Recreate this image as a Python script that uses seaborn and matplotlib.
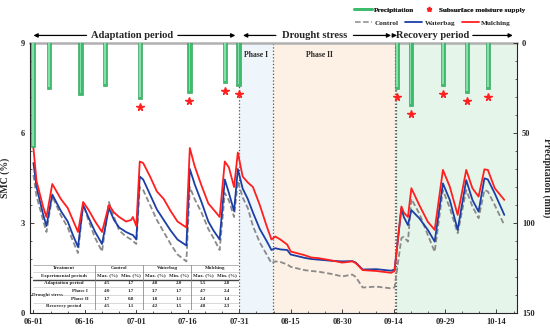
import numpy as np
import pandas as pd
import matplotlib
matplotlib.use('Agg')
import matplotlib.pyplot as plt
import seaborn as sns
from matplotlib.lines import Line2D
from matplotlib.patches import Rectangle
from matplotlib.ticker import MultipleLocator, FixedLocator

# dias contados a partir de 06-01
dias = [0, 0.9, 2.8, 3.8, 5.5, 8, 10, 11.5, 13, 14.5, 16, 18, 20, 22, 23.5, 25, 27, 28.5, 29, 30,
        31, 32, 34, 36, 38, 40, 42, 44.6, 45.6, 47, 49, 51, 52.5, 54.3, 55.8, 57, 58.5, 59.6,
        61, 62.5, 64, 66, 68, 69.4, 70.5, 72, 74, 75, 79, 81, 83, 87, 90, 93, 94, 96, 100, 104.3, 105.3,
        107.3, 108, 109.2, 110.2, 112.5, 115, 117, 119.4, 121.4, 123.7, 126.2, 128, 129.8, 131.5,
        132.5, 134.5, 137.3]
controle = [4.6, 3.9, 3.1, 2.7, 3.9, 3.25, 2.85, 2.4, 2.0, 3.65, 3.1, 2.5, 2.05, 3.7, 3.2, 2.75, 2.55, 2.45, 2.4, 2.3,
            4.2, 4.1, 3.6, 3.1, 2.7, 2.3, 1.95, 1.72, 4.2, 3.8, 3.35, 2.8, 2.5, 2.1, 4.0, 3.75, 3.2, 4.4,
            3.85, 3.5, 2.9, 2.35, 1.95, 1.66, 1.72, 1.7, 1.62, 1.54, 1.43, 1.4, 1.38, 1.3, 1.22, 1.28, 1.2, 0.85, 0.88, 0.82, 0.85,
            2.5, 2.54, 2.38, 3.8, 3.32, 2.6, 2.04, 4.1, 3.5, 2.66, 4.1, 3.55, 3.16, 4.1,
            4.05, 3.6, 2.93]
waterbag = [5.0, 4.2, 3.3, 2.9, 3.95, 3.4, 3.05, 2.6, 2.2, 3.6, 3.2, 2.7, 2.3, 3.5, 3.1, 2.85, 2.7, 2.62, 2.6, 2.45,
            4.55, 4.45, 3.95, 3.45, 3.1, 2.75, 2.45, 2.25, 4.8, 4.3, 3.7, 3.05, 2.75, 2.45, 4.45, 4.0, 3.4, 4.8,
            4.15, 3.8, 3.35, 2.8, 2.4, 2.1, 2.16, 2.12, 2.1, 1.95, 1.84, 1.8, 1.78, 1.74, 1.72, 1.73, 1.68, 1.45, 1.46, 1.41, 1.45,
            3.5, 3.2, 2.93, 3.43, 3.16, 2.77, 2.38, 4.32, 3.77, 2.77, 4.43, 3.77, 3.38, 4.49,
            4.45, 3.99, 3.27]
mulching = [5.5, 4.4, 3.55, 3.2, 4.3, 3.8, 3.5, 3.1, 2.7, 3.7, 3.45, 3.05, 2.7, 3.6, 3.35, 3.2, 3.05, 3.1, 3.2, 2.9,
            5.05, 5.0, 4.55, 4.05, 3.8, 3.4, 3.05, 2.85, 5.5, 4.9, 4.25, 3.65, 3.45, 3.2, 5.05, 4.85, 4.2, 5.35,
            4.55, 4.35, 4.2, 3.6, 2.9, 2.45, 2.55, 2.45, 2.28, 2.05, 1.93, 1.85, 1.83, 1.75, 1.68, 1.72, 1.66, 1.43, 1.4, 1.34, 1.4,
            3.55, 3.35, 3.2, 4.16, 3.6, 3.04, 2.77, 4.77, 4.21, 3.27, 4.77, 4.16, 3.88, 4.79,
            4.77, 4.16, 3.77]

precip_dias = [-0.1, 4.5, 13.7, 20.9, 31, 45.5, 55.8, 59.8, 106, 110, 119.4, 126.5, 132.6]
precip_mm = [58, 25.6, 29, 24, 31, 27.6, 22, 24, 25.7, 35, 24, 27.6, 25.7]
supply_dias = precip_dias[4:]
supply_mm = precip_mm[4:]

datas_ticks = ['06-01', '06-16', '07-01', '07-16', '07-31', '08-15', '08-30', '09-14', '09-29', '10-14']

tabela_linhas = ['Adaptation period', 'Phase I', 'Phase II', 'Recovery period']
tab_control = [(4.5, 1.7), (4.0, 1.7), (1.7, 0.8), (4.5, 1.1)]
tab_waterbag = [(4.8, 2.0), (3.7, 1.7), (1.8, 1.1), (4.2, 1.5)]
tab_mulching = [(5.5, 2.8), (4.7, 2.4), (2.4, 1.4), (4.8, 2.3)]

sns.set_style('ticks')
plt.rcParams['font.family'] = ['Liberation Serif', 'DejaVu Serif']
plt.rcParams['font.weight'] = 'bold'

cores = {'Control': '#8a8a8a', 'Waterbag': '#1c3fa6', 'Mulching': '#ff1f1f'}
verde = '#3dbd6c'

fig = plt.figure(figsize=(5.5, 3.3), dpi=100)
ax = fig.add_axes([30/550, 1-313/330, 487/550, 270/330])

# fundos dos periodos
ax.axvspan(60, 69.8, color='#eef5fb', zorder=0, lw=0)
ax.axvspan(69.8, 105.3, color='#fdf0e5', zorder=0, lw=0)
ax.axvspan(105.8, 141, color='#e5f5ea', zorder=0, lw=0)
for xv in [60, 69.8, 105.3, 105.8]:
    ax.axvline(xv, color='#555555', ls=':', lw=0.9, zorder=1)

df = pd.DataFrame({'dia': dias, 'Control': controle, 'Waterbag': waterbag, 'Mulching': mulching})
longo = df.melt(id_vars='dia', var_name='trat', value_name='smc')
sns.lineplot(data=longo, x='dia', y='smc', hue='trat', style='trat',
             hue_order=['Control', 'Waterbag', 'Mulching'], palette=cores,
             dashes={'Control': (3, 1.5), 'Waterbag': '', 'Mulching': ''},
             linewidth=1.3, legend=False, ax=ax, zorder=3)

ax.set_xlim(-1, 141)
ax.set_ylim(0, 9)
ax.xaxis.set_major_locator(FixedLocator([15*i for i in range(10)]))
ax.set_xticklabels(datas_ticks, fontsize=6.5, fontweight='bold')
ax.xaxis.set_minor_locator(MultipleLocator(5))
ax.yaxis.set_major_locator(MultipleLocator(3))
ax.yaxis.set_minor_locator(MultipleLocator(0.6))
ax.tick_params(axis='both', which='both', direction='in', labelsize=6)
ax.tick_params(which='major', length=3, width=0.6)
ax.tick_params(which='minor', length=1.5, width=0.5)
ax.set_xlabel('')
ax.set_ylabel('SMC (%)', fontsize=7, fontweight='bold', labelpad=8)
for s in ['left', 'bottom', 'right']:
    ax.spines[s].set_linewidth(0.7)
ax.spines['top'].set_color('#b0b0b0')
ax.spines['top'].set_linewidth(1.8)

# precipitacao (eixo invertido)
ax2 = ax.twinx()
ax2.bar(precip_dias, precip_mm, width=1.25, bottom=0, color=verde, edgecolor='#2a9a55', lw=0.4, zorder=4)
ax2.bar(precip_dias, [m - 1 for m in precip_mm], width=0.45, bottom=0, color='#86deaa', lw=0, zorder=5)
ax2.plot(supply_dias, [m + 4.5 for m in supply_mm], ls='none', marker='*', color='#ff2020', ms=5.5, zorder=6)
ax2.set_ylim(150, 0)
ax2.yaxis.set_major_locator(MultipleLocator(50))
ax2.yaxis.set_minor_locator(MultipleLocator(10))
ax2.tick_params(axis='y', which='both', direction='in', labelsize=6)
ax2.tick_params(which='major', length=3, width=0.6)
ax2.tick_params(which='minor', length=1.5, width=0.5)
ax2.set_ylabel('Precipitation (mm)', fontsize=7, fontweight='bold', rotation=270, labelpad=12)
ax2.spines['top'].set_visible(False)

# cabecalho dos periodos
def periodo(x0, x1, texto, xc, meia):
    ax.text(xc, 1.028, texto, transform=ax.get_xaxis_transform(), ha='center', va='center',
            fontsize=7.6, fontweight='bold')
    kw = dict(xycoords=ax.get_xaxis_transform(), textcoords=ax.get_xaxis_transform(),
              arrowprops=dict(arrowstyle='-|>', color='black', lw=0.9, mutation_scale=6))
    ax.annotate('', xy=(x0, 1.028), xytext=(xc - meia, 1.028), **kw)
    ax.annotate('', xy=(x1, 1.028), xytext=(xc + meia, 1.028), **kw)

periodo(-0.8, 59.7, 'Adaptation period', 28.8, 12.5)
periodo(60.3, 105.1, 'Drought stress', 82, 10.5)
periodo(106, 140.6, 'Recovery period', 116.3, 11)

ax.text(64.8, 8.6, 'Phase I', ha='center', va='center', fontsize=5.5, fontweight='bold')
ax.text(83.3, 8.6, 'Phase II', ha='center', va='center', fontsize=5.5, fontweight='bold')

# legendas
leg1 = fig.legend(handles=[Line2D([], [], color=verde, lw=2),
                           Line2D([], [], color='#ff2020', marker='*', ls='none', ms=3.5)],
                  labels=['Precipitation', 'Subsurface moisture supply'], ncol=2, loc='center',
                  bbox_to_anchor=(440/550, 1-10/330), frameon=False, fontsize=5.2,
                  handlelength=2.4, handletextpad=0.3, columnspacing=0.8)
leg2 = fig.legend(handles=[Line2D([], [], color=cores['Control'], lw=1.1, ls='--'),
                           Line2D([], [], color=cores['Waterbag'], lw=1.3),
                           Line2D([], [], color=cores['Mulching'], lw=1.3)],
                  labels=['Control', 'Waterbag', 'Mulching'], ncol=3, loc='center',
                  bbox_to_anchor=(433/550, 1-23/330), frameon=False, fontsize=5.2,
                  handlelength=2.4, handletextpad=0.3, columnspacing=0.9)
fig.add_artist(leg1)

# tabela
tab = fig.add_axes([33/550, 1-310/330, 206/550, 46/330])
tab.set_xlim(33, 239)
tab.set_ylim(310, 264)
tab.axis('off')
tab.add_patch(Rectangle((33, 264), 206, 46, fc='white', ec='none'))
fs = 3.6
for yl, cor, lw in [(264.5, '#999999', 0.5), (271.5, '#bbbbbb', 0.4), (279.5, '#444444', 1.0),
                    (287, '#bbbbbb', 0.4), (302.5, '#bbbbbb', 0.4), (309.6, '#444444', 0.8)]:
    tab.plot([33, 239], [yl, yl], color=cor, lw=lw)
tab.plot([62, 239], [295, 295], color='#bbbbbb', lw=0.4)
for xl in [95, 143, 191]:
    tab.plot([xl, xl], [264.5, 309.6], color='#777777', lw=0.5)
tab.text(64, 268, 'Treatment', ha='center', va='center', fontsize=fs, fontweight='bold')
tab.text(64, 275.5, 'Experimental periods', ha='center', va='center', fontsize=fs, fontweight='bold')
for xc, nome in zip([95, 143, 191], ['Control', 'Waterbag', 'Mulching']):
    tab.text(xc + 24, 268, nome, ha='center', va='center', fontsize=fs, fontweight='bold')
    tab.text(xc + 12, 275.5, 'Max. (%)', ha='center', va='center', fontsize=fs, fontweight='bold')
    tab.text(xc + 36, 275.5, 'Min. (%)', ha='center', va='center', fontsize=fs, fontweight='bold')
linhas_y = [283.3, 291, 299, 306.2]
tab.text(64, linhas_y[0], tabela_linhas[0], ha='center', va='center', fontsize=fs, fontweight='bold')
tab.text(48, 295, 'Drought stress', ha='center', va='center', fontsize=fs, fontweight='bold')
tab.text(80, linhas_y[1], tabela_linhas[1], ha='center', va='center', fontsize=fs, fontweight='bold')
tab.text(80, linhas_y[2], tabela_linhas[2], ha='center', va='center', fontsize=fs, fontweight='bold')
tab.text(64, linhas_y[3], tabela_linhas[3], ha='center', va='center', fontsize=fs, fontweight='bold')
for xc, valores in zip([95, 143, 191], [tab_control, tab_waterbag, tab_mulching]):
    for yv, (mx, mn) in zip(linhas_y, valores):
        tab.text(xc + 12, yv, f'{mx:.1f}', ha='center', va='center', fontsize=fs)
        tab.text(xc + 36, yv, f'{mn:.1f}', ha='center', va='center', fontsize=fs)

fig.savefig('out.png', dpi=100)
